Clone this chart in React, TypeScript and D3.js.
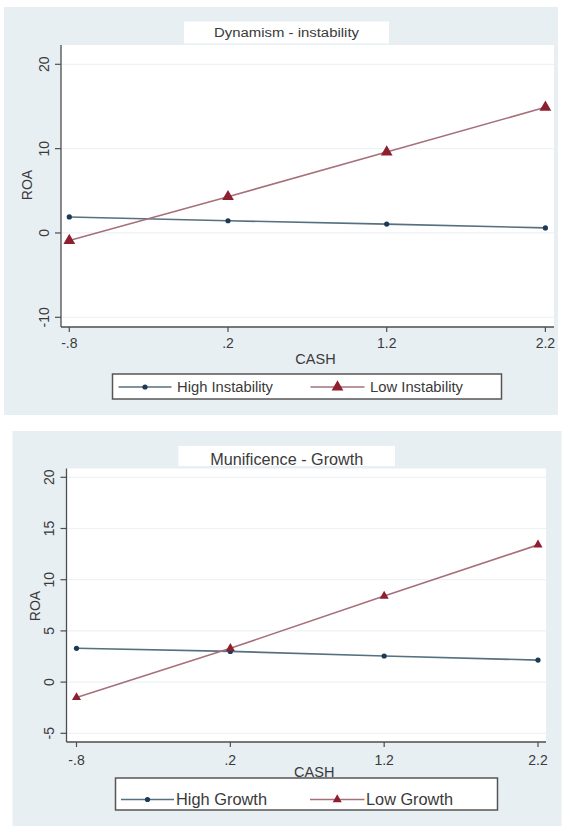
import React from 'react';
import * as d3 from 'd3';

const width = 563;
const height = 826;

// CASH values on the x axis and their Stata-style labels
const cashValues = [-0.8, 0.2, 1.2, 2.2];
const cashLabels = ['-.8', '.2', '1.2', '2.2'];

// top panel: Dynamism - instability
const highInstability = [1.9, 1.45, 1.05, 0.6];
const lowInstability = [-0.9, 4.3, 9.6, 14.9];
const instabilityTicks = [-10, 0, 10, 20];

// bottom panel: Munificence - Growth
const highGrowth = [3.3, 3.0, 2.55, 2.15];
const lowGrowth = [-1.5, 3.3, 8.4, 13.4];
const growthTicks = [-5, 0, 5, 10, 15, 20];

const bgColor = '#e8eff3';
const axisColor = '#4d4d4d';
const textColor = '#3a3a3a';
const navy = '#1c3a56';
const navyLine = '#56707f';
const red = '#8e1f2f';
const redLine = '#a6707b';
const font = '"Liberation Sans", Arial, sans-serif';

type Layout = {
	bg: [number, number, number, number];
	titleBox: [number, number, number, number];
	titleY: number;
	titleSize: number;
	titleLength: number;
	plot: { left: number; top: number; right: number; bottom: number };
	xRange: [number, number];
	yRange: [number, number];
	yDomain: [number, number];
	yLabelX: number;
	roa: [number, number];
	xLabelY: number;
	cashY: number;
	fontSize: number;
	legendBox: [number, number, number, number];
	legendY: number;
	legendSize: number;
	legendItems: { x1: number; x2: number; tx: number; len: number }[];
	tri: number;
};

const topLayout: Layout = {
	bg: [4, 7, 554, 408],
	titleBox: [184, 21.5, 205, 22],
	titleY: 37,
	titleSize: 12.5,
	titleLength: 145,
	plot: { left: 61, top: 45, right: 554, bottom: 327 },
	xRange: [69.3, 545.4],
	yRange: [317.3, 64.3],
	yDomain: [-10, 20],
	yLabelX: 48.5,
	roa: [32, 185],
	xLabelY: 348,
	cashY: 364,
	fontSize: 14,
	legendBox: [112.5, 374, 389, 25],
	legendY: 387,
	legendSize: 14,
	legendItems: [
		{ x1: 118.5, x2: 171.5, tx: 177, len: 96 },
		{ x1: 310.5, x2: 364.5, tx: 370, len: 93 }
	],
	tri: 60
};

const bottomLayout: Layout = {
	bg: [12.5, 431, 549, 395],
	titleBox: [178.5, 446, 216.5, 20],
	titleY: 465,
	titleSize: 16,
	titleLength: 153,
	plot: { left: 66.5, top: 468.5, right: 546, bottom: 742 },
	xRange: [76.5, 538],
	yRange: [733.3, 477.3],
	yDomain: [-5, 20],
	yLabelX: 53.5,
	roa: [39.5, 606],
	xLabelY: 765,
	cashY: 777,
	fontSize: 14,
	legendBox: [115.5, 778, 382, 32],
	legendY: 799.5,
	legendSize: 16.5,
	legendItems: [
		{ x1: 121, x2: 174, tx: 176, len: 91 },
		{ x1: 310, x2: 364.5, tx: 366, len: 87 }
	],
	tri: 36
};

type PanelProps = {
	layout: Layout;
	title: string;
	yTicks: number[];
	high: number[];
	low: number[];
	highLabel: string;
	lowLabel: string;
};

function Panel({ layout: L, title, yTicks, high, low, highLabel, lowLabel }: PanelProps) {
	const x = d3.scaleLinear().domain([cashValues[0], cashValues[cashValues.length - 1]]).range(L.xRange);
	const y = d3.scaleLinear().domain(L.yDomain).range(L.yRange);
	const line = d3.line<number>().x((_, i) => x(cashValues[i])).y((d) => y(d));
	const triangle = d3.symbol(d3.symbolTriangle, L.tri)() as string;
	const { left, top, right, bottom } = L.plot;

	return (
		<g fontFamily={font} fill={textColor}>
			<rect x={L.bg[0]} y={L.bg[1]} width={L.bg[2]} height={L.bg[3]} fill={bgColor} />
			{/* title box */}
			<rect x={L.titleBox[0]} y={L.titleBox[1]} width={L.titleBox[2]} height={L.titleBox[3]} fill="#fff" />
			<text
				x={L.titleBox[0] + L.titleBox[2] / 2}
				y={L.titleY}
				textAnchor="middle"
				fontSize={L.titleSize}
				textLength={L.titleLength}
				lengthAdjust="spacingAndGlyphs"
			>
				{title}
			</text>
			{/* plot region */}
			<rect x={left} y={top} width={right - left} height={bottom - top} fill="#fff" />
			{yTicks.map((t) => (
				<line key={t} x1={left} x2={right} y1={y(t)} y2={y(t)} stroke="#eef2f4" strokeWidth={1.2} />
			))}
			<line x1={left} x2={left} y1={top} y2={bottom} stroke={axisColor} strokeWidth={1.3} />
			<line x1={left} x2={right} y1={bottom} y2={bottom} stroke={axisColor} strokeWidth={1.3} />
			{yTicks.map((t) => (
				<g key={t}>
					<line x1={left - 6} x2={left} y1={y(t)} y2={y(t)} stroke={axisColor} strokeWidth={1.2} />
					<text
						transform={`translate(${L.yLabelX},${y(t)}) rotate(-90)`}
						textAnchor="middle"
						fontSize={L.fontSize}
					>
						{t}
					</text>
				</g>
			))}
			{cashValues.map((c, i) => (
				<g key={c}>
					<line x1={x(c)} x2={x(c)} y1={bottom} y2={bottom + 5} stroke={axisColor} strokeWidth={1.2} />
					<text x={x(c)} y={L.xLabelY} textAnchor="middle" fontSize={L.fontSize}>
						{cashLabels[i]}
					</text>
				</g>
			))}
			<text x={(left + right) / 2 + 8} y={L.cashY} textAnchor="middle" fontSize={L.fontSize + 0.5}>
				CASH
			</text>
			<text transform={`translate(${L.roa[0]},${L.roa[1]}) rotate(-90)`} textAnchor="middle" fontSize={L.fontSize}>
				ROA
			</text>
			{/* series */}
			<path d={line(high) as string} fill="none" stroke={navyLine} strokeWidth={1.6} />
			<path d={line(low) as string} fill="none" stroke={redLine} strokeWidth={1.6} />
			{high.map((v, i) => (
				<circle key={i} cx={x(cashValues[i])} cy={y(v)} r={2.6} fill={navy} />
			))}
			{low.map((v, i) => (
				<path key={i} d={triangle} transform={`translate(${x(cashValues[i])},${y(v)})`} fill={red} />
			))}
			{/* legend */}
			<rect
				x={L.legendBox[0]}
				y={L.legendBox[1]}
				width={L.legendBox[2]}
				height={L.legendBox[3]}
				fill="#fff"
				stroke="#555"
				strokeWidth={1.5}
			/>
			{[highLabel, lowLabel].map((label, i) => {
				const it = L.legendItems[i];
				const mx = (it.x1 + it.x2) / 2;
				return (
					<g key={label}>
						<line
							x1={it.x1}
							x2={it.x2}
							y1={L.legendY}
							y2={L.legendY}
							stroke={i === 0 ? navyLine : redLine}
							strokeWidth={1.6}
						/>
						{i === 0 ? (
							<circle cx={mx} cy={L.legendY} r={2.6} fill={navy} />
						) : (
							<path d={triangle} transform={`translate(${mx},${L.legendY})`} fill={red} />
						)}
						<text
							x={it.tx}
							y={L.legendY + L.legendSize * 0.36}
							fontSize={L.legendSize}
							textLength={it.len}
							lengthAdjust="spacingAndGlyphs"
						>
							{label}
						</text>
					</g>
				);
			})}
		</g>
	);
}

export default function App() {
	return (
		<svg
			width={width}
			height={height}
			viewBox={`0 0 ${width} ${height}`}
			style={{ position: 'absolute', left: 0, top: 0, background: '#fff' }}
		>
			<Panel
				layout={topLayout}
				title="Dynamism - instability"
				yTicks={instabilityTicks}
				high={highInstability}
				low={lowInstability}
				highLabel="High Instability"
				lowLabel="Low Instability"
			/>
			<Panel
				layout={bottomLayout}
				title="Munificence - Growth"
				yTicks={growthTicks}
				high={highGrowth}
				low={lowGrowth}
				highLabel="High Growth"
				lowLabel="Low Growth"
			/>
		</svg>
	);
}
